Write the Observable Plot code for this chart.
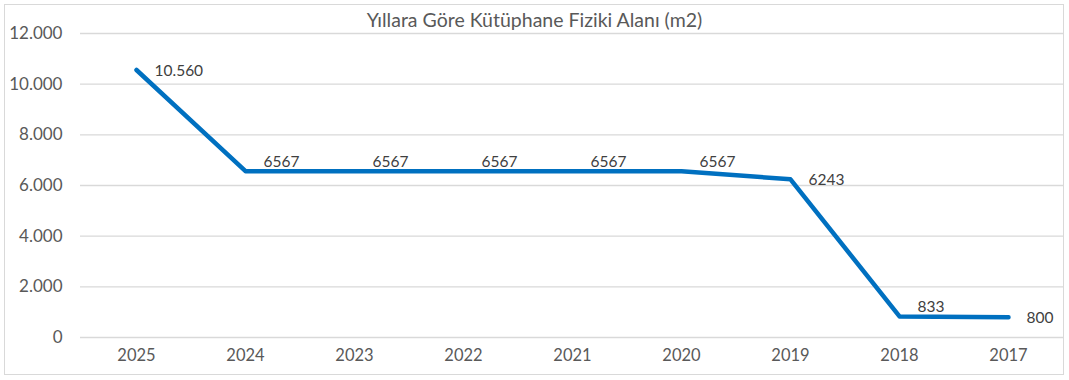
<!DOCTYPE html>
<html>
<head>
<meta charset="utf-8">
<script src="https://cdn.jsdelivr.net/npm/d3@7"></script>
<script src="https://cdn.jsdelivr.net/npm/@observablehq/plot@0.6"></script>
<style>
  html, body { margin: 0; padding: 0; background: #fff; }
  #wrap { position: relative; width: 1069px; height: 380px; overflow: hidden; font-family: Lato, "Open Sans", sans-serif; }
  #frame { position: absolute; left: 4px; top: 4px; width: 1060px; height: 371px; border: 1px solid #d9d9d9; box-sizing: border-box; pointer-events: none; }
  #title { position: absolute; left: 0; top: 8px; width: 1069px; text-align: center; font-size: 19.5px; color: #595959; line-height: 24px; z-index: 2; }
  #chart { position: absolute; left: 0; top: 18px; }
</style>
</head>
<body>
<div id="wrap">
  <div id="chart"></div>
  <div id="title">Yıllara Göre Kütüphane Fiziki Alanı (m2)</div>
  <div id="frame"></div>
</div>
<script>
const years = ["2025", "2024", "2023", "2022", "2021", "2020", "2019", "2018", "2017"];
const areas = [10560, 6567, 6567, 6567, 6567, 6567, 6243, 833, 800];
const yTicks = [0, 2000, 4000, 6000, 8000, 10000, 12000];

const trLocale = d3.formatLocale({decimal: ",", thousands: ".", grouping: [3], currency: ["", ""]});
const fmtTick = trLocale.format(",d");
// Excel-style: 4-digit values shown without separator
const fmtLabel = v => v >= 10000 ? trLocale.format(",d")(v) : String(v);

const data = years.map((y, i) => ({
  year: y,
  value: areas[i],
  label: fmtLabel(areas[i]),
  flatNext: i < areas.length - 1 && Math.abs(areas[i + 1] - areas[i]) < 1000
}));

const plot = Plot.plot({
  width: 1069,
  height: 362,
  marginLeft: 80,
  marginRight: 5,
  marginTop: 15,
  marginBottom: 43,
  style: {fontFamily: "Lato, 'Open Sans', sans-serif", fontSize: "16px", color: "#595959", background: "transparent"},
  x: {type: "point", domain: years, padding: 0.5, label: null},
  y: {domain: [0, 12000], label: null},
  marks: [
    Plot.ruleY(yTicks, {stroke: "#d9d9d9", strokeWidth: 1.3}),
    Plot.axisY(yTicks, {tickSize: 0, tickPadding: 18, tickFormat: fmtTick, fill: "#595959", fontSize: 17}),
    Plot.axisX({tickSize: 0, tickPadding: 12, fill: "#595959", fontSize: 16.5}),
    Plot.line(data, {x: "year", y: "value", stroke: "#0070C0", strokeWidth: 4.5, strokeLinejoin: "round", strokeLinecap: "round"}),
    Plot.text(data.filter(d => !d.flatNext), {x: "year", y: "value", text: "label", textAnchor: "start", dx: 18, dy: 1, fill: "#404040", fontSize: 15.5}),
    Plot.text(data.filter(d => d.flatNext), {x: "year", y: "value", text: "label", textAnchor: "start", dx: 18, dy: -9, fill: "#404040", fontSize: 15.5})
  ]
});
document.getElementById("chart").appendChild(plot);
</script>
</body>
</html>
